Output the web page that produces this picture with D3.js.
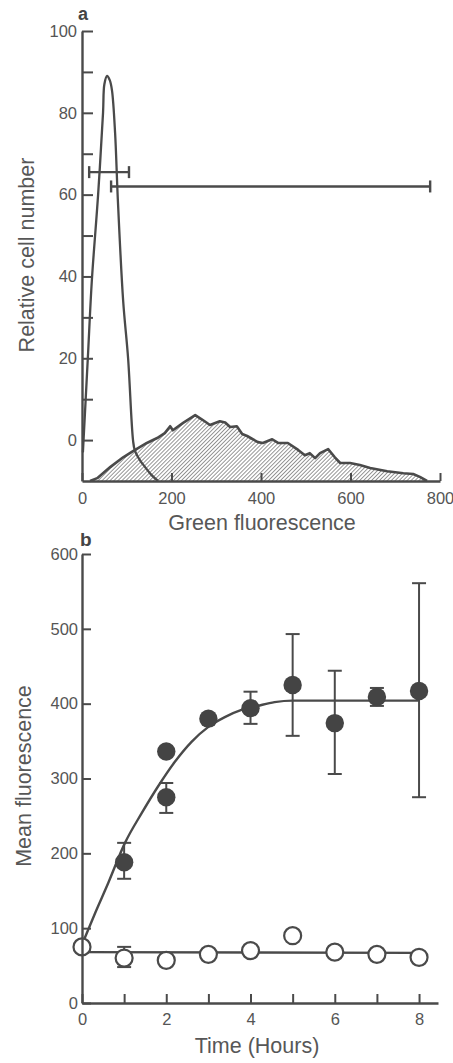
<!DOCTYPE html>
<html>
<head>
<meta charset="utf-8">
<script src="https://cdn.jsdelivr.net/npm/d3@7"></script>
<style>
  body { margin: 0; background: #fff; }
  svg { display: block; }
  .tick text { font-family: "Liberation Sans", Arial, sans-serif; fill: #555; }
</style>
</head>
<body>
<div id="chart"></div>
<script>
// panel a - flow histogram (green fluorescence vs relative cell number)
const peakFl  = [2, 13, 22, 36, 47, 50, 56, 62, 67, 74, 80, 92, 103, 114, 118, 130, 141, 155, 170];
const peakVal = [-3, 20, 39, 60, 80, 87, 89, 88, 85.5, 75, 59, 34, 20, 0, -2.5, -5, -6.6, -8.5, -10];

const histFl  = [18, 34, 63, 92, 114, 145, 168, 185, 197, 203, 226, 253, 270, 286, 308, 320, 331, 346, 358, 369,
                 393, 404, 425, 438, 460, 483, 498, 509, 521, 532, 550, 565, 577, 599, 621, 644, 682, 718, 740, 755, 771];
const histVal = [-10, -9.3, -6.6, -4.2, -2.7, -0.7, 0.5, 1.7, 3.4, 2.4, 4.2, 6.1, 4.9, 3.7, 4.6, 4.3, 3.2, 3.4, 1.5, 1.0,
                 -0.5, -0.7, 0.2, -0.7, -0.7, -2.4, -3.7, -3.2, -4.4, -3.2, -2.2, -4.2, -5.6, -5.6, -6.1, -6.8, -7.6, -8.1, -8.3, -9.0, -10];

const gateStart = [16, 65];
const gateEnd   = [105, 778];
const gateLevel = [65.5, 62];

const aYTicks  = [0, 10, 20, 30, 40, 50, 60, 70, 80, 90, 100];
const aXTicks  = [0, 200, 400, 600, 800];

// panel b - mean fluorescence over time
const fitHours = [0, 0.31, 0.62, 1.02, 1.42, 1.8, 2.2, 2.6, 3.0, 3.39, 3.8, 4.17, 4.57, 5, 6, 7, 8];
const fitVal   = [78, 120, 160, 214, 254, 289, 322, 349, 369, 382, 392, 397, 402, 404, 404, 404, 404];

const filledHours = [1, 2, 2, 3, 4, 5, 6, 7, 8];
const filledVal   = [188, 336, 275, 380, 394, 425, 374, 409, 417];
const filledHi    = [214, null, 294, null, 416, 493, 444, 421, 561];
const filledLo    = [166, null, 254, null, 373, 357, 306, 397, 275];

const openHours = [0, 1, 2, 3, 4, 5, 6, 7, 8];
const openVal   = [75, 60, 57, 65, 70, 90, 68, 65, 61];
const openHi    = [null, 75, null, null, null, null, null, null, null];
const openLo    = [null, 48, null, null, null, null, null, null, null];
const openLineHours = [0, 8];
const openLineVal   = [68, 67];

const bYTicks = [0, 100, 200, 300, 400, 500, 600];
const bXTicks = [0, 1, 2, 3, 4, 5, 6, 7, 8];

const width = 453, height = 1063;
const ink = "#4a4a4a", textCol = "#575757";
const font = '"Liberation Sans", Arial, sans-serif';

const svg = d3.select("#chart").append("svg")
  .attr("width", width).attr("height", height);

const defs = svg.append("defs");
defs.append("pattern")
  .attr("id", "hatch")
  .attr("patternUnits", "userSpaceOnUse")
  .attr("width", 2.8).attr("height", 2.8)
  .attr("patternTransform", "rotate(45)")
  .append("line")
  .attr("x1", 0).attr("y1", 0).attr("x2", 0).attr("y2", 2.8)
  .attr("stroke", "#4a4a4a").attr("stroke-width", 1.15);

function styleAxis(g, fs) {
  g.select(".domain").attr("stroke", ink).attr("stroke-width", 2.4);
  g.selectAll(".tick line").attr("stroke", ink).attr("stroke-width", 2);
  g.selectAll(".tick text").attr("font-size", fs).attr("fill", textCol);
}

// ---------- panel a ----------
const xa = d3.scaleLinear().domain([0, 800]).range([82, 440]);
const ya = d3.scaleLinear().domain([-10, 100]).range([481, 31]);

const histData = histFl.map((f, i) => [f, histVal[i]]);
svg.append("path")
  .datum(histData)
  .attr("d", d3.area().x(d => xa(d[0])).y0(ya(-10)).y1(d => ya(d[1])))
  .attr("fill", "url(#hatch)");
svg.append("path")
  .datum(histData)
  .attr("d", d3.line().x(d => xa(d[0])).y(d => ya(d[1])))
  .attr("fill", "none").attr("stroke", ink).attr("stroke-width", 2.6)
  .attr("stroke-linejoin", "round");

const peakData = peakFl.map((f, i) => [f, peakVal[i]]);
svg.append("path")
  .datum(peakData)
  .attr("d", d3.line().x(d => xa(d[0])).y(d => ya(d[1])).curve(d3.curveCatmullRom))
  .attr("fill", "none").attr("stroke", ink).attr("stroke-width", 2.3);

// gate markers
const gates = svg.append("g").attr("stroke", ink).attr("stroke-width", 2.4);
gateStart.forEach((s, i) => {
  const yy = ya(gateLevel[i]);
  gates.append("line").attr("x1", xa(s)).attr("x2", xa(gateEnd[i])).attr("y1", yy).attr("y2", yy);
  [s, gateEnd[i]].forEach(v => {
    gates.append("line").attr("x1", xa(v)).attr("x2", xa(v)).attr("y1", yy - 6).attr("y2", yy + 6);
  });
});

const axAY = svg.append("g")
  .attr("transform", `translate(${xa(0)},0)`)
  .call(d3.axisLeft(ya).tickValues(aYTicks).tickSizeInner(-11).tickSizeOuter(0).tickPadding(5)
    .tickFormat(d => d % 20 === 0 ? d : ""));
styleAxis(axAY, 16.5);

const axAX = svg.append("g")
  .attr("transform", `translate(0,${ya(-10)})`)
  .call(d3.axisBottom(xa).tickValues(aXTicks).tickSizeInner(-8).tickSizeOuter(0).tickPadding(11));
styleAxis(axAX, 16.5);

svg.append("text").attr("x", 78).attr("y", 20)
  .attr("font-family", font).attr("font-weight", "bold").attr("font-size", 18).attr("fill", "#444")
  .text("a");
svg.append("text")
  .attr("transform", "translate(34,255) rotate(-90)")
  .attr("text-anchor", "middle")
  .attr("font-family", font).attr("font-size", 21.5).attr("fill", textCol)
  .text("Relative cell number");
svg.append("text").attr("x", 262).attr("y", 530)
  .attr("text-anchor", "middle")
  .attr("font-family", font).attr("font-size", 21.5).attr("fill", textCol)
  .text("Green fluorescence");

// ---------- panel b ----------
const xb = d3.scaleLinear().domain([0, 8.45]).range([82, 438]);
const yb = d3.scaleLinear().domain([0, 600]).range([1003, 554]);

svg.append("path")
  .datum(fitHours.map((h, i) => [h, fitVal[i]]))
  .attr("d", d3.line().x(d => xb(d[0])).y(d => yb(d[1])).curve(d3.curveMonotoneX))
  .attr("fill", "none").attr("stroke", ink).attr("stroke-width", 2.4);

function errorBars(hours, hi, lo) {
  const g = svg.append("g").attr("stroke", ink).attr("stroke-width", 2);
  hours.forEach((h, i) => {
    if (hi[i] == null) return;
    const cx = xb(h);
    g.append("line").attr("x1", cx).attr("x2", cx).attr("y1", yb(hi[i])).attr("y2", yb(lo[i]));
    [hi[i], lo[i]].forEach(v => {
      g.append("line").attr("x1", cx - 7).attr("x2", cx + 7).attr("y1", yb(v)).attr("y2", yb(v));
    });
  });
}

errorBars(filledHours, filledHi, filledLo);
svg.append("g").selectAll("circle")
  .data(filledHours.map((h, i) => [h, filledVal[i]]))
  .join("circle")
  .attr("cx", d => xb(d[0])).attr("cy", d => yb(d[1])).attr("r", 9.2)
  .attr("fill", "#444");

svg.append("path")
  .datum(openLineHours.map((h, i) => [h, openLineVal[i]]))
  .attr("d", d3.line().x(d => xb(d[0])).y(d => yb(d[1])))
  .attr("fill", "none").attr("stroke", ink).attr("stroke-width", 2.4);

errorBars(openHours, openHi, openLo);
svg.append("g").selectAll("circle")
  .data(openHours.map((h, i) => [h, openVal[i]]))
  .join("circle")
  .attr("cx", d => xb(d[0])).attr("cy", d => yb(d[1])).attr("r", 8.5)
  .attr("fill", "#fff").attr("stroke", ink).attr("stroke-width", 2.2);

const axBY = svg.append("g")
  .attr("transform", `translate(${xb(0)},0)`)
  .call(d3.axisLeft(yb).tickValues(bYTicks).tickSizeInner(-9).tickSizeOuter(0).tickPadding(4));
styleAxis(axBY, 16.5);

const axBX = svg.append("g")
  .attr("transform", `translate(0,${yb(0)})`)
  .call(d3.axisBottom(xb).tickValues(bXTicks).tickSizeInner(-9).tickSizeOuter(0).tickPadding(10)
    .tickFormat(d => d % 2 === 0 ? d : ""));
styleAxis(axBX, 16.5);

svg.append("text").attr("x", 80).attr("y", 546)
  .attr("font-family", font).attr("font-weight", "bold").attr("font-size", 19).attr("fill", "#444")
  .text("b");
svg.append("text")
  .attr("transform", "translate(31,776) rotate(-90)")
  .attr("text-anchor", "middle")
  .attr("font-family", font).attr("font-size", 21.5).attr("fill", textCol)
  .text("Mean fluorescence");
svg.append("text").attr("x", 257).attr("y", 1053)
  .attr("text-anchor", "middle")
  .attr("font-family", font).attr("font-size", 21.5).attr("fill", textCol)
  .text("Time (Hours)");
</script>
</body>
</html>
